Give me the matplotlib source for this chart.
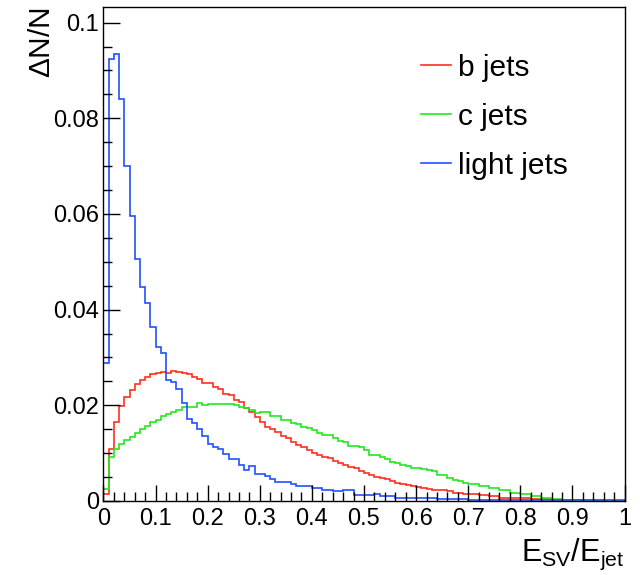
import numpy as np
import matplotlib
matplotlib.use("Agg")
import matplotlib.pyplot as plt
from matplotlib.ticker import FixedLocator, MultipleLocator

plt.rcParams['font.family'] = ['Liberation Sans', 'DejaVu Sans']
plt.rcParams['mathtext.fontset'] = 'custom'
plt.rcParams['mathtext.rm'] = 'Liberation Sans'

# 100 bins from 0 to 1, normalised fractions per bin
bin_edges = np.linspace(0, 1, 101)

b_jets = [
    0.0015, 0.0108, 0.0166, 0.0199, 0.0218, 0.0232, 0.0244, 0.0253, 0.0259, 0.0265,
    0.0268, 0.0270, 0.0268, 0.0271, 0.0270, 0.0267, 0.0265, 0.0260, 0.0255, 0.0247,
    0.0246, 0.0238, 0.0234, 0.0224, 0.0222, 0.0212, 0.0206, 0.0194, 0.0185, 0.0176,
    0.0166, 0.0155, 0.0150, 0.0145, 0.0136, 0.0131, 0.0124, 0.0117, 0.0112, 0.0107,
    0.0101, 0.0096, 0.0092, 0.0089, 0.0084, 0.0080, 0.0075, 0.0071, 0.0068, 0.0063,
    0.0059, 0.0054, 0.0051, 0.0049, 0.0045, 0.0042, 0.0038, 0.0036, 0.0033, 0.0031,
    0.0029, 0.0028, 0.0026, 0.0024, 0.0022, 0.0022, 0.0020, 0.0017, 0.0017, 0.0014,
    0.0014, 0.0014, 0.0013, 0.0013, 0.0010, 0.0010, 0.0007, 0.0007, 0.0006, 0.0006,
    0.0006, 0.0006, 0.0004, 0.0004, 0.0004, 0.0004, 0.0003, 0.0003, 0.0003, 0.0003,
    0.0003, 0.0002, 0.0002, 0.0001, 0.0001, 0.0001, 0.0001, 0.0001, 0.0001, 0.0001,
]

c_jets = [
    0.0025, 0.0092, 0.0108, 0.0119, 0.0127, 0.0134, 0.0143, 0.0151, 0.0157, 0.0166,
    0.0169, 0.0178, 0.0182, 0.0187, 0.0190, 0.0197, 0.0197, 0.0197, 0.0204, 0.0200,
    0.0202, 0.0203, 0.0203, 0.0203, 0.0202, 0.0200, 0.0196, 0.0195, 0.0190, 0.0183,
    0.0185, 0.0185, 0.0178, 0.0178, 0.0169, 0.0169, 0.0164, 0.0160, 0.0155, 0.0152,
    0.0148, 0.0143, 0.0138, 0.0138, 0.0131, 0.0126, 0.0123, 0.0115, 0.0114, 0.0112,
    0.0106, 0.0096, 0.0096, 0.0092, 0.0087, 0.0082, 0.0079, 0.0075, 0.0073, 0.0070,
    0.0068, 0.0066, 0.0064, 0.0062, 0.0055, 0.0055, 0.0049, 0.0043, 0.0042, 0.0038,
    0.0036, 0.0036, 0.0031, 0.0031, 0.0028, 0.0028, 0.0022, 0.0022, 0.0017, 0.0017,
    0.0014, 0.0014, 0.0010, 0.0010, 0.0007, 0.0007, 0.0004, 0.0004, 0.0003, 0.0003,
    0.0002, 0.0002, 0.0002, 0.0002, 0.0002, 0.0002, 0.0001, 0.0001, 0.0001, 0.0001,
]

light_jets = [
    0.0289, 0.0923, 0.0934, 0.0840, 0.0701, 0.0596, 0.0506, 0.0448, 0.0413, 0.0363,
    0.0321, 0.0309, 0.0253, 0.0249, 0.0234, 0.0204, 0.0172, 0.0164, 0.0151, 0.0135,
    0.0120, 0.0113, 0.0108, 0.0098, 0.0087, 0.0087, 0.0076, 0.0064, 0.0073, 0.0056,
    0.0056, 0.0052, 0.0045, 0.0040, 0.0040, 0.0040, 0.0035, 0.0031, 0.0031, 0.0031,
    0.0028, 0.0028, 0.0024, 0.0024, 0.0021, 0.0021, 0.0022, 0.0022, 0.0012, 0.0012,
    0.0012, 0.0012, 0.0014, 0.0010, 0.0010, 0.0010, 0.0007, 0.0007, 0.0007, 0.0007,
    0.0007, 0.0007, 0.0007, 0.0007, 0.0005, 0.0005, 0.0005, 0.0004, 0.0004, 0.0004,
    0.0003, 0.0003, 0.0003, 0.0003, 0.0003, 0.0003, 0.0003, 0.0003, 0.0003, 0.0003,
    0.0002, 0.0002, 0.0002, 0.0002, 0.0002, 0.0002, 0.0002, 0.0002, 0.0002, 0.0002,
    0.0002, 0.0002, 0.0002, 0.0002, 0.0002, 0.0002, 0.0002, 0.0002, 0.0002, 0.0002,
]

labels = ["b jets", "c jets", "light jets"]
colors = ["#ff3020", "#22e622", "#2050ff"]

x_ticks = [0, 0.1, 0.2, 0.3, 0.4, 0.5, 0.6, 0.7, 0.8, 0.9, 1.0]
x_ticklabels = ["0", "0.1", "0.2", "0.3", "0.4", "0.5", "0.6", "0.7", "0.8", "0.9", "1"]
y_ticks = [0, 0.02, 0.04, 0.06, 0.08, 0.1]
y_ticklabels = ["0", "0.02", "0.04", "0.06", "0.08", "0.1"]

fig = plt.figure(figsize=(6.4, 5.75), dpi=100)
ax = fig.add_axes([0.1617, 0.1287, 0.8141, 0.8586])

for vals, lab, col in zip([b_jets, c_jets, light_jets], labels, colors):
    ax.stairs(vals, bin_edges, baseline=None, color=col, lw=1.2, label=lab)

ax.set_xlim(0, 1)
ax.set_ylim(0, 0.1032)

ax.xaxis.set_major_locator(FixedLocator(x_ticks))
ax.set_xticklabels(x_ticklabels)
ax.xaxis.set_minor_locator(MultipleLocator(0.02))
ax.yaxis.set_major_locator(FixedLocator(y_ticks))
ax.set_yticklabels(y_ticklabels)
ax.yaxis.set_minor_locator(MultipleLocator(0.005))

ax.tick_params(which='both', direction='in', top=False, right=False, labelsize=17, width=1)
ax.tick_params(axis='x', which='major', length=11.5, pad=5)
ax.tick_params(axis='y', which='major', length=12, pad=3)
ax.tick_params(which='minor', length=6.5)
for s in ax.spines.values():
    s.set_linewidth(1)

ax.set_xlabel(r"$\mathregular{E_{SV}/E_{jet}}$", fontsize=22, loc='right', labelpad=5)
ax.set_ylabel(r"$\Delta$N/N", fontsize=21.5, loc='top', labelpad=-2)

ax.legend(loc='upper left', bbox_to_anchor=(0.558, 0.96), frameon=False, fontsize=21.5,
          handlelength=1.0, handletextpad=0.25, labelspacing=0.7)

fig.savefig("out.png", dpi=100)
